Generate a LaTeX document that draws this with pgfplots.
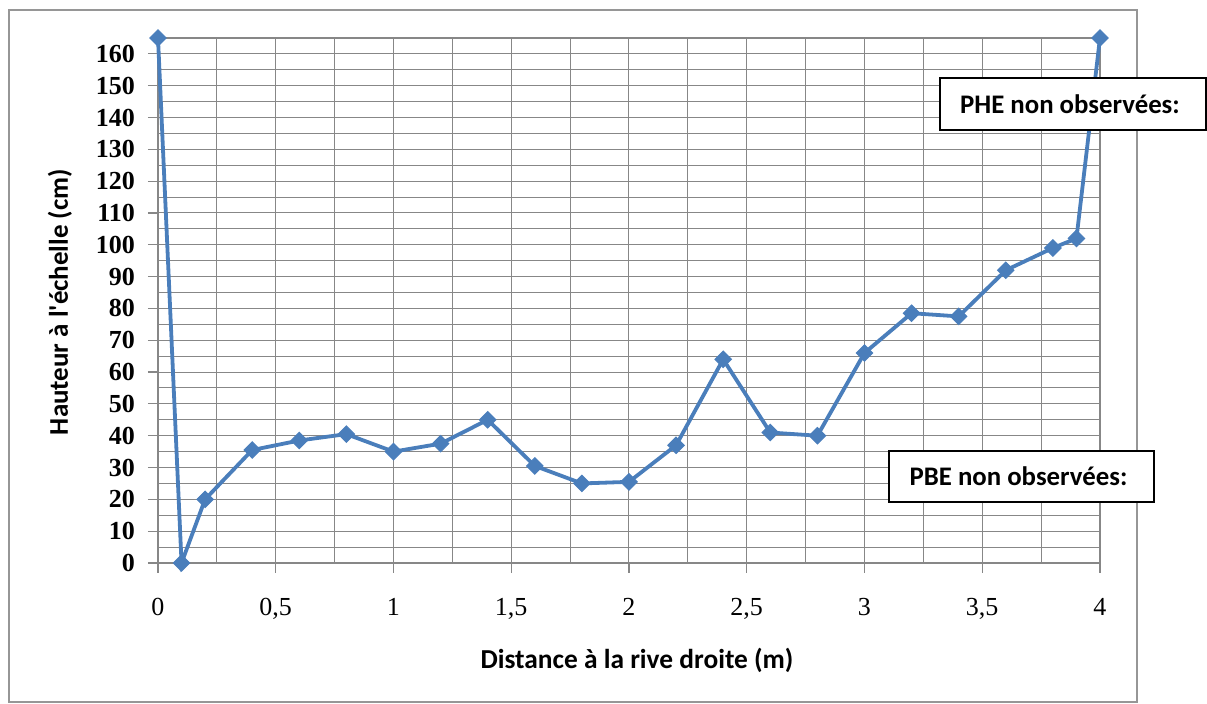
\documentclass[border=0pt]{standalone}
\usepackage{fontspec}
\setmainfont{Liberation Serif}
\newfontfamily\calfont{Carlito}
\usepackage{pgfplots}
\pgfplotsset{compat=1.18}
\definecolor{xblue}{RGB}{74,126,187}
\definecolor{gridc}{RGB}{135,135,135}
\definecolor{framec}{RGB}{150,150,150}
\pgfplotstableread{
x y
0 165
0.1 0
0.2 20
0.4 35.5
0.6 38.5
0.8 40.5
1.0 35
1.2 37.5
1.4 45
1.6 30.5
1.8 25
2.0 25.5
2.2 37
2.4 64
2.6 41
2.8 40
3.0 66
3.2 78.5
3.4 77.5
3.6 92
3.8 99
3.9 102
4.0 165
}\datatable
\begin{document}
\begin{tikzpicture}
\path (-79pt,-70.5pt) rectangle (524.5pt,281.5pt);
\draw[framec, line width=0.6pt] (-74.5pt,-69.5pt) rectangle (489.5pt,276.5pt);
\begin{axis}[at={(0pt,0pt)}, anchor=south west, scale only axis,
  width=471pt, height=262.5pt,
  xmin=0, xmax=4, ymin=0, ymax=165,
  xtick={0,0.5,1,1.5,2,2.5,3,3.5,4},
  minor xtick={0.25,0.75,1.25,1.75,2.25,2.75,3.25,3.75},
  ytick={0,10,20,30,40,50,60,70,80,90,100,110,120,130,140,150,160},
  minor ytick={5,15,25,35,45,55,65,75,85,95,105,115,125,135,145,155,165},
  grid=both,
  major grid style={gridc, line width=0.5pt},
  minor grid style={gridc, line width=0.5pt},
  axis line style={gridc, line width=0.6pt},
  tick style={gridc, line width=0.6pt},
  tick align=outside, major tick length=5pt, minor tick length=0pt,
  xtick pos=bottom, ytick pos=left,
  /pgf/number format/use comma,
  /pgf/number format/assume math mode=true,
  xticklabel style={font=\fontsize{13}{13}\selectfont, yshift=-9pt},
  yticklabel style={font=\bfseries\fontsize{13}{13}\selectfont, xshift=-3pt},
  clip=false,
]
\addplot[color=xblue, line width=1.9pt, mark=square*, mark size=2.9pt,
  mark options={rotate=45, fill=xblue, draw=xblue, line width=0.5pt}] table[x=x,y=y] {\datatable};
\end{axis}
\node[font=\calfont\bfseries\fontsize{13.7}{14}\selectfont] at (239.5pt,-48.5pt) {Distance à la rive droite (m)};
\node[font=\calfont\bfseries\fontsize{13.5}{14}\selectfont, rotate=90] at (-49pt,130.5pt) {Hauteur à l'échelle (cm)};
\node[draw=black, fill=white, line width=0.8pt, minimum width=133pt, minimum height=26pt, inner sep=0pt,
  font=\calfont\bfseries\fontsize{13.4}{14}\selectfont] at (457.5pt,229.5pt) {\hspace{-3pt}PHE non observées:};
\node[draw=black, fill=white, line width=0.8pt, minimum width=132.5pt, minimum height=25.5pt, inner sep=0pt,
  font=\calfont\bfseries\fontsize{13.4}{14}\selectfont] at (431.75pt,43.25pt) {\hspace{-3pt}PBE non observées:};
\end{tikzpicture}
\end{document}
